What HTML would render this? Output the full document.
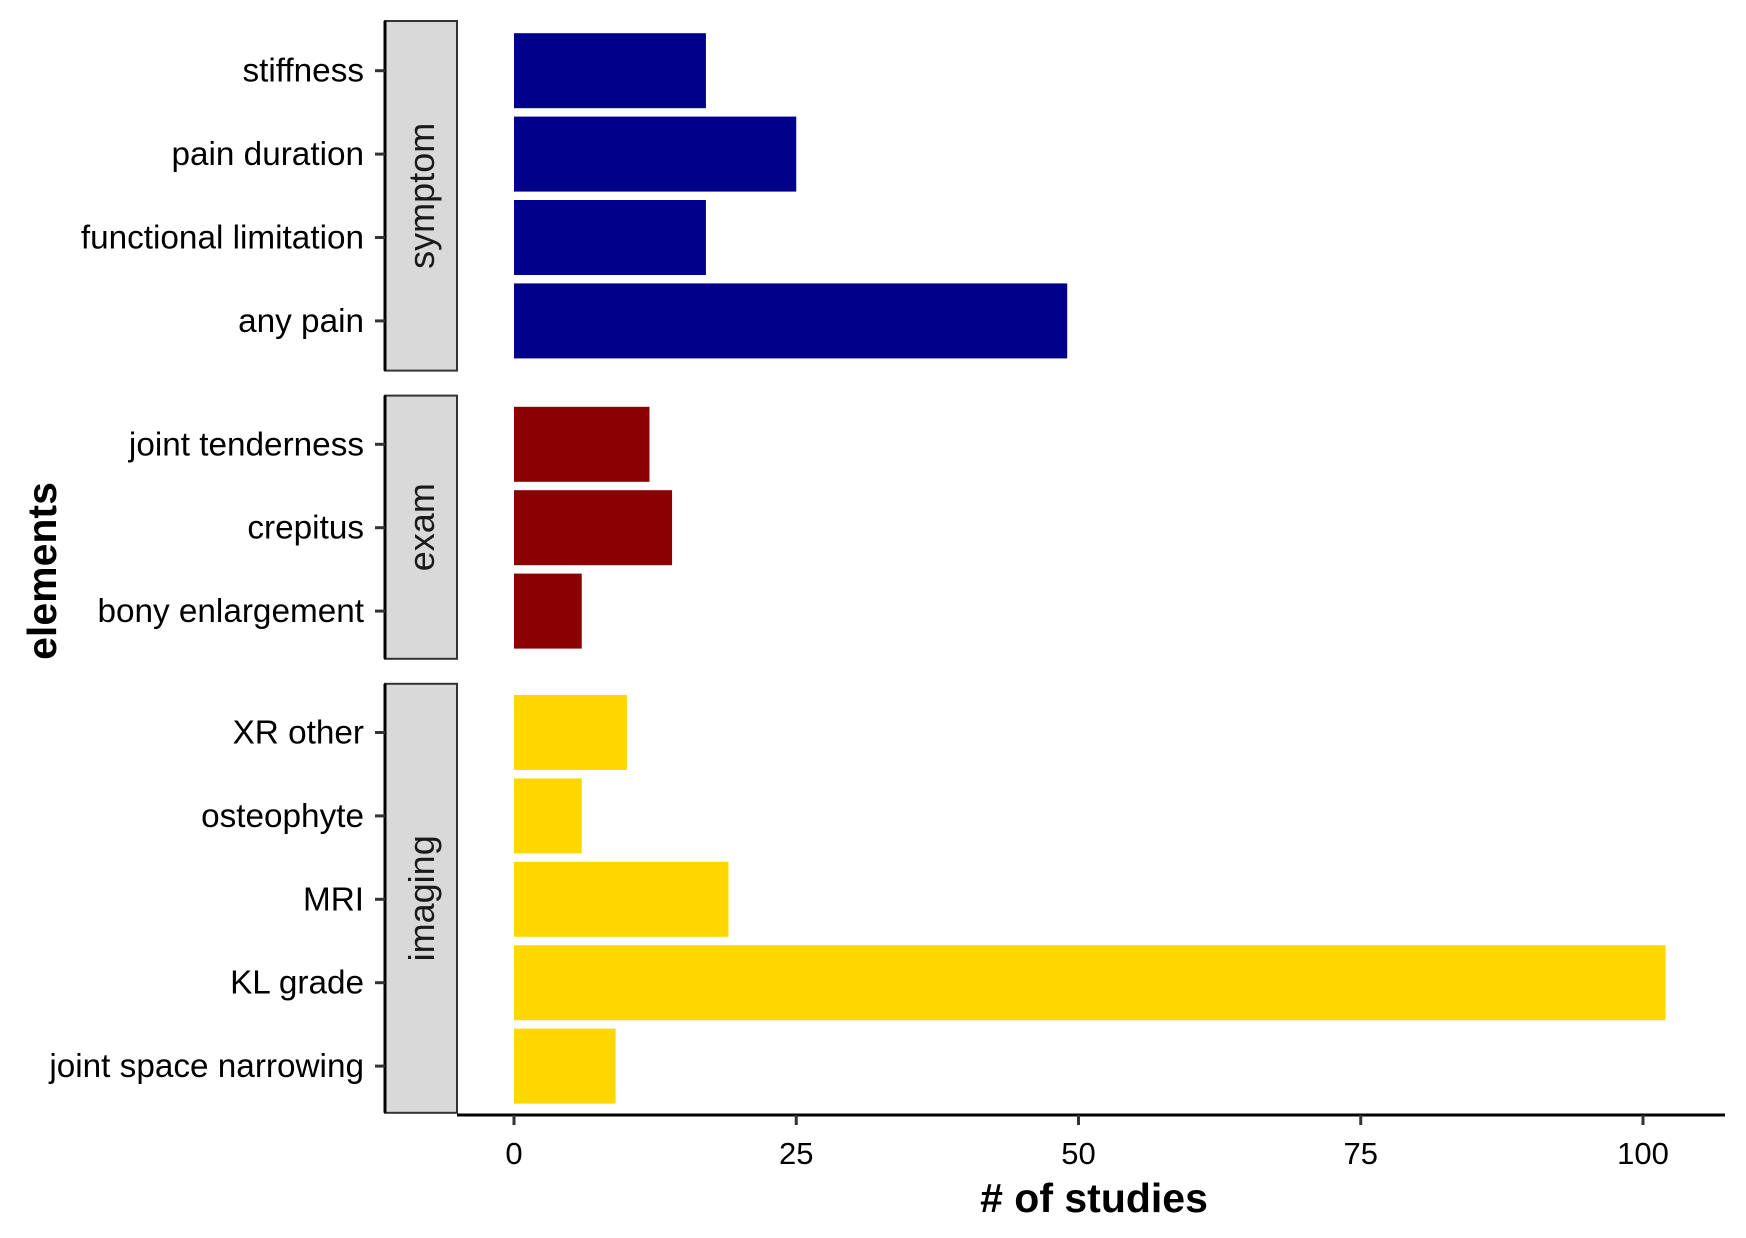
<!DOCTYPE html>
<html><head><meta charset="utf-8"><style>
html,body{margin:0;padding:0;background:#fff}
svg{display:block;font-family:"Liberation Sans",Arial,sans-serif}
</style></head><body>
<svg id="chart" width="1746" height="1238" viewBox="0 0 1746 1238" xmlns="http://www.w3.org/2000/svg">
<text x="56" y="571" transform="rotate(-90 56 571)" text-anchor="middle" font-size="41" font-weight="bold">elements</text>
<text x="1094" y="1212" text-anchor="middle" font-size="41" font-weight="bold"># of studies</text>
<line x1="457" y1="1115" x2="1725" y2="1115" stroke="#000" stroke-width="3"/>
<g id="bars"></g>
</svg>
<script>
const categories = ["stiffness","pain duration","functional limitation","any pain","joint tenderness","crepitus","bony enlargement","XR other","osteophyte","MRI","KL grade","joint space narrowing"];
const groups = ["symptom","symptom","symptom","symptom","exam","exam","exam","imaging","imaging","imaging","imaging","imaging"];
const counts = [17,25,17,49,12,14,6,10,6,19,102,9];
const xTicks = [0,25,50,75,100];
const panels = ["symptom","exam","imaging"];
const panelColors = {symptom:"#00008B",exam:"#8B0000",imaging:"#FFD700"};

const NS="http://www.w3.org/2000/svg";
const svg=document.getElementById('chart');
const g=document.getElementById('bars');
const x0=514, pxPerUnit=11.29;
const xScale=v=>x0+v*pxPerUnit;
const step=83.4, gap=25;
function mk(t,a){const e=document.createElementNS(NS,t);for(const k in a)e.setAttribute(k,a[k]);return e;}
let y=21;
const yPos=[];
panels.forEach((p,pi)=>{
  const idx=categories.map((c,i)=>i).filter(i=>groups[i]===p);
  const top=y;
  const ph=idx.length*step+(p==="imaging"?12:(p==="symptom"?16:13));
  idx.forEach((i,k)=>{yPos[i]=top+(p==="symptom"?8:(p==="imaging"?7:7))+step*(k+0.5);});
  const strip=mk('rect',{x:385,y:top,width:72,height:ph,fill:'#d9d9d9',stroke:'#333','stroke-width':2});
  
  
  svg.appendChild(strip);
  const cy=top+ph/2;
  const st=mk('text',{x:434,y:cy,transform:`rotate(-90 434 ${cy})`,'text-anchor':'middle','font-size':'36',fill:'#1a1a1a'});
  st.textContent=p;
  
  
  svg.appendChild(st);
  const ax=mk('line',{x1:385,y1:top,x2:385,y2:top+ph,stroke:'#000','stroke-width':3});
  
  
  svg.appendChild(ax);
  y=top+ph+gap;
});
categories.forEach((c,i)=>{
  const cy=yPos[i];
  const r=mk('rect',{x:xScale(0),y:cy-37.5,width:xScale(counts[i])-xScale(0),height:75,fill:panelColors[groups[i]]});
  
  
  g.appendChild(r);
  const tk=mk('line',{x1:375,y1:cy,x2:385,y2:cy,stroke:'#333','stroke-width':3});
  
  
  svg.appendChild(tk);
  const t=mk('text',{x:364,y:cy+11,'text-anchor':'end','font-size':'33.3',fill:'#000'});
  t.textContent=c;
  
  
  svg.appendChild(t);
});
xTicks.forEach(v=>{
  const xx=xScale(v);
  const tk=mk('line',{x1:xx,y1:1115,x2:xx,y2:1125,stroke:'#333','stroke-width':3});
  
  
  svg.appendChild(tk);
  const t=mk('text',{x:xx,y:1164,'text-anchor':'middle','font-size':'31',fill:'#000'});
  t.textContent=v;
  
  
  svg.appendChild(t);
});
</script>
</body></html>
